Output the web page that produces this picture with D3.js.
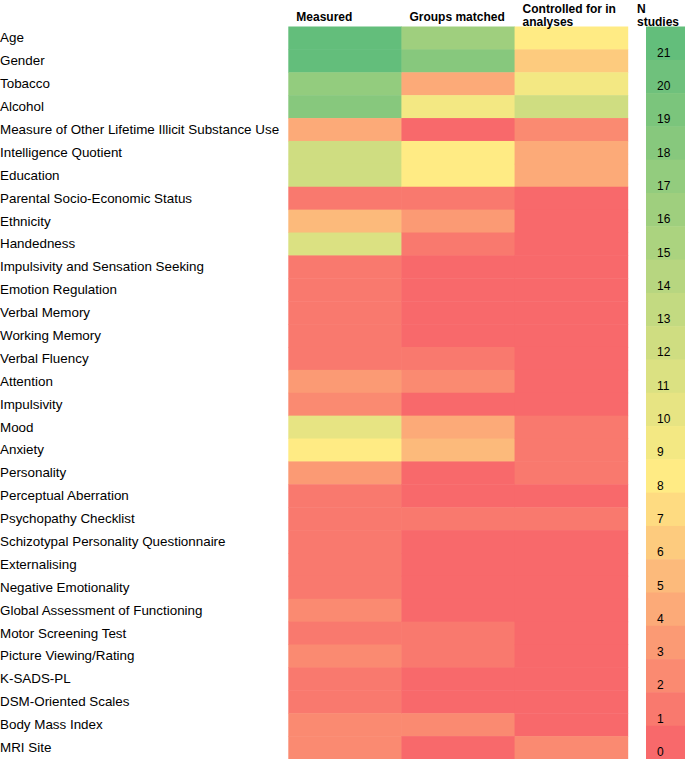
<!DOCTYPE html>
<html>
<head>
<meta charset="utf-8">
<script src="https://cdn.jsdelivr.net/npm/d3@7"></script>
<style>
  html, body { margin: 0; padding: 0; background: #fff; }
  svg { display: block; font-family: Arial, "Liberation Sans", sans-serif; }
  .hdr { font-size: 12px; font-weight: bold; fill: #000; }
  .row-label { font-size: 13.4px; fill: #000; }
  .leg-label { font-size: 12px; fill: #000; }
</style>
</head>
<body>
<svg id="chart" width="685" height="759"></svg>
<script>
// heatmap of covariate handling across studies — colours follow Excel's red/yellow/green scale

const rows = [
  "Age", "Gender", "Tobacco", "Alcohol",
  "Measure of Other Lifetime Illicit Substance Use",
  "Intelligence Quotient", "Education", "Parental Socio-Economic Status",
  "Ethnicity", "Handedness", "Impulsivity and Sensation Seeking",
  "Emotion Regulation", "Verbal Memory", "Working Memory", "Verbal Fluency",
  "Attention", "Impulsivity", "Mood", "Anxiety", "Personality",
  "Perceptual Aberration", "Psychopathy Checklist",
  "Schizotypal Personality Questionnaire", "Externalising",
  "Negative Emotionality", "Global Assessment of Functioning",
  "Motor Screening Test", "Picture Viewing/Rating", "K-SADS-PL",
  "DSM-Oriented Scales", "Body Mass Index", "MRI Site"
];

const columns = [
  ["Measured"],
  ["Groups matched"],
  ["Controlled for in", "analyses"]
];

// number of studies, one entry per row
const measured = [21, 21, 17, 18, 4, 12, 12, 1, 5, 11, 1, 1, 1, 1, 1, 3,
                  2, 10, 8, 3, 1, 1, 1, 1, 1, 2, 1, 2, 1, 1, 2, 2];
const groupsMatched = [16, 18, 4, 9, 0, 8, 8, 1, 3, 1, 0, 0, 0, 0, 1, 2,
                       0, 4, 5, 0, 0, 1, 0, 0, 0, 0, 1, 1, 0, 0, 2, 0];
const controlled = [8, 6, 9, 12, 2, 4, 4, 0, 0, 0, 0, 0, 0, 0, 0, 0,
                    0, 1, 1, 1, 0, 1, 0, 0, 0, 0, 0, 0, 0, 0, 0, 2];

const legendValues = [21, 20, 19, 18, 17, 16, 15, 14, 13, 12, 11,
                      10, 9, 8, 7, 6, 5, 4, 3, 2, 1, 0];

const series = [measured, groupsMatched, controlled];

const svg = d3.select("#chart");

const gridTop = 26.5, gridBottom = 759;
const gridLeft = 288.3, gridRight = 627.7;

const color = d3.scaleLinear()
  .domain([0, 8, 21])
  .range(["#F8696B", "#FFEB84", "#63BE7B"]);

const x = d3.scaleBand()
  .domain(d3.range(columns.length))
  .range([gridLeft, gridRight]);

const y = d3.scaleBand()
  .domain(rows)
  .range([gridTop, gridBottom]);

// cells
series.forEach(function (vals, ci) {
  svg.append("g")
    .selectAll("rect")
    .data(vals)
    .join("rect")
      .attr("x", x(ci))
      .attr("y", (d, i) => y(rows[i]))
      .attr("width", x.bandwidth() + 0.5)
      .attr("height", y.bandwidth() + 0.5)
      .attr("fill", d => color(d));
});

// row labels
svg.append("g")
  .selectAll("text")
  .data(rows)
  .join("text")
    .attr("class", "row-label")
    .attr("x", 0)
    .attr("y", d => y(d) + y.bandwidth() / 2 + 4.5)
    .text(d => d);

// column headers
columns.forEach(function (lines, ci) {
  const t = svg.append("text")
    .attr("class", "hdr")
    .attr("y", lines.length > 1 ? 13 : 21);
  lines.forEach(function (ln, li) {
    t.append("tspan")
      .attr("x", x(ci) + 8)
      .attr("dy", li === 0 ? 0 : 13)
      .text(ln);
  });
});

// legend: discrete colour bar
const lx = 646, lw = 40;
const ly = d3.scaleBand()
  .domain(legendValues)
  .range([gridTop, gridBottom]);

const leg = svg.append("g");
leg.selectAll("rect")
  .data(legendValues)
  .join("rect")
    .attr("x", lx)
    .attr("y", d => ly(d))
    .attr("width", lw)
    .attr("height", ly.bandwidth() + 0.5)
    .attr("fill", d => color(d));

leg.selectAll("text")
  .data(legendValues)
  .join("text")
    .attr("class", "leg-label")
    .attr("x", lx + 11)
    .attr("y", d => ly(d) + ly.bandwidth() - 3)
    .text(d => d);

const nt = svg.append("text")
  .attr("class", "hdr")
  .attr("y", 13);
nt.append("tspan").attr("x", 637).text("N");
nt.append("tspan").attr("x", 637).attr("dy", 13).text("studies");
</script>
</body>
</html>
